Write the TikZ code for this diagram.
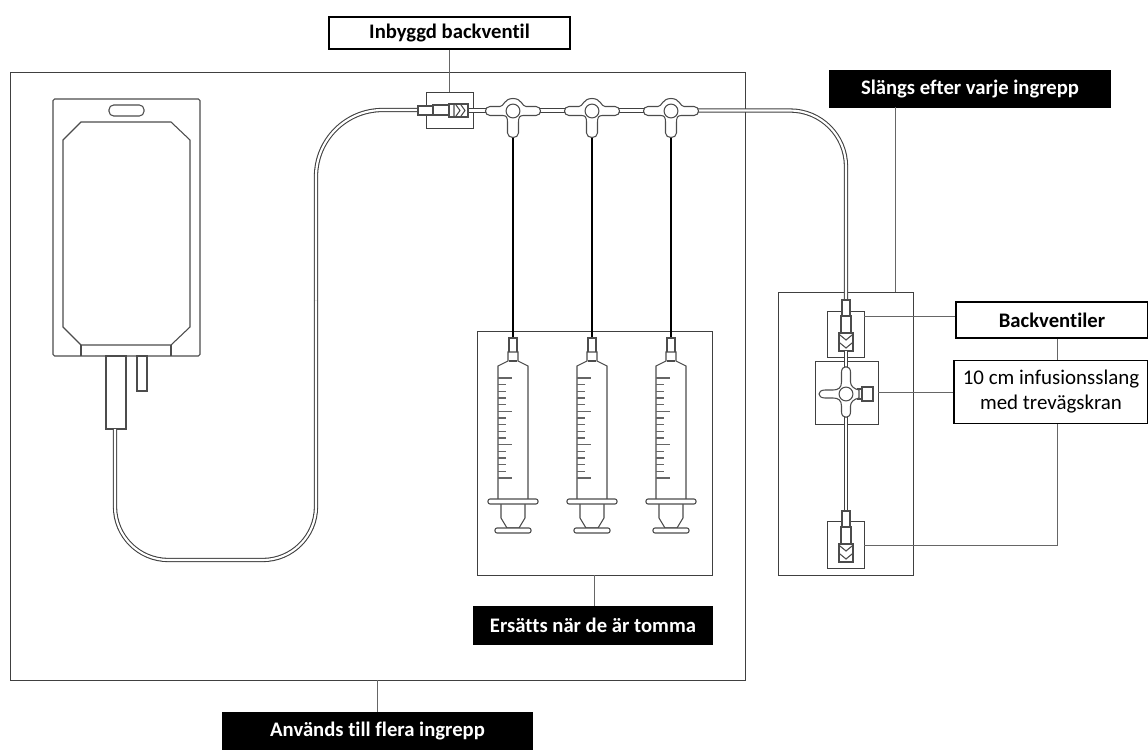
\documentclass[tikz,border=0pt]{standalone}
\usepackage{fontspec}
\setmainfont[Ligatures=NoCommon]{Carlito}
\usetikzlibrary{fit}
\tikzset{
  region/.style={draw=black!75,line width=0.65pt,inner sep=0pt},
  tag/.style={draw=black,line width=0.9pt,fill=white,text=black,font=\fontsize{15.5}{18}\selectfont\bfseries,align=center,inner sep=0pt},
  blacktag/.style={tag,fill=black,text=white},
  lead/.style={draw=black!60,line width=0.7pt},
  part/.style={draw=black!70,line width=0.8pt,fill=white},
  tube/.style={draw=black!75,line width=0.8pt,double=white,double distance=1.6pt},
}
\begin{document}
\begin{tikzpicture}[x={(0.75pt,0)},y={(0,-0.75pt)}]
  \useasboundingbox (0,0) rectangle (1148,749);
  % boxes round the groups of parts
  \node[region,fit={(10,72) (745,680)}] (reuse) {};
  \node[region,fit={(477,331) (712,575)}] (syringes) {};
  \node[region,fit={(778,292) (913,575)}] (patient) {};
  \node[region,fit={(426,92) (473,128)}] (inlinevalve) {};
  \node[region,fit={(827,311) (864,357)}] (valvetop) {};
  \node[region,fit={(815,361) (878,424)}] (stopcock) {};
  \node[region,fit={(827,521) (864,568)}] (valvelow) {};
  % labels
  \node[tag,minimum width=180.75pt,minimum height=24pt] (inbyggd) at (449.5,33) {Inbyggd backventil};
  \node[blacktag,minimum width=210pt,minimum height=27pt] (slangs) at (970,89) {Slängs efter varje ingrepp};
  \node[tag,minimum width=144pt,minimum height=27pt] (backv) at (1052,320) {Backventiler};
  \node[tag,font=\fontsize{15.7}{18.75}\selectfont,minimum width=145.5pt,minimum height=47pt] (infus) at (1051,392) {10 cm infusionsslang\\med trevägskran};
  \node[blacktag,minimum width=178.5pt,minimum height=29pt] (ersatts) at (593,625.5) {Ersätts när de är tomma};
  \node[blacktag,minimum width=233pt,minimum height=27pt] (anvands) at (377.5,731) {Används till flera ingrepp};
  \coordinate (slangsdrop) at (895,107);
  \coordinate (lowturn) at (1057,545);
  % leads
  \draw[lead] (inbyggd.south) -- (inlinevalve.north);
  \draw[lead] (slangsdrop) -- (slangsdrop |- patient.north);
  \draw[lead] (reuse.south) -- (reuse.south |- anvands.north);
  \draw[lead] (syringes.south) -- (syringes.south |- ersatts.north);
  \draw[lead] (valvetop.east |- 0,316) -- (backv.west |- 0,316);
  \draw[lead] (stopcock.east) -- (infus.west |- stopcock.east);
  \draw[lead] (lowturn |- backv.south) -- (lowturn |- infus.north);
  \draw[lead] (lowturn |- infus.south) -- (lowturn) -- (valvelow.east |- lowturn);
  % bag
  \draw[part,rounded corners=1.2pt] (53,99) rectangle (200,356);
  \draw[part,rounded corners=3.5pt] (109,105) rectangle (144,116);
  \draw[part] (81,345) -- (63,327) -- (63,140) -- (81,122) -- (171,122) -- (190,140) -- (190,327) -- (171,345) -- cycle;
  \draw[part] (81,345) -- (81,356) (171,345) -- (171,356);
  \draw[part] (106,356) rectangle (126,429);
  \draw[part] (137,356) rectangle (147,391);
  % tubing
  \draw[tube,rounded corners=40pt] (115,429) -- (115,560) -- (316,560) -- (316,300);
  \draw[tube,rounded corners=50pt] (316,300) -- (316,110) -- (420,110);
  \draw[tube] (465,110.5) -- (670,110.5);
  \draw[tube,rounded corners=42pt] (670,110.5) -- (846,110.5) -- (846,304);
  \draw[tube] (846,350) -- (846,515);
  % inline valve
  \draw[part] (418,106) rectangle (434,115);
  \draw[part] (433,105) rectangle (450,115);
  \draw[part] (449,104) rectangle (468,117);
  \draw[draw=black!70,line width=0.8pt] (454,104) -- (454,117) (456,105) -- (460,110.5) -- (456,116) (461,105) -- (465,110.5) -- (461,116);
  % T pieces, their lines and the syringes
  \foreach \tx in {513,592,671} {
    \draw[line width=1.8pt,black] (\tx,137) -- (\tx,338);
    \begin{scope}[shift={(\tx,111)}]
      \draw[part] (-23,-4.5) -- (-13,-4.5) .. controls (-9,-4.5) and (-9,-12.5) .. (0,-12.5)
        .. controls (9,-12.5) and (9,-4.5) .. (13,-4.5) -- (23,-4.5)
        .. controls (29,-4.5) and (29,4.5) .. (23,4.5) -- (10,4.5)
        .. controls (6.5,4.5) and (5.5,7) .. (5.5,11) -- (5.5,22)
        .. controls (5.5,28) and (-5.5,28) .. (-5.5,22) -- (-5.5,11)
        .. controls (-5.5,7) and (-6.5,4.5) .. (-10,4.5) -- (-23,4.5)
        .. controls (-29,4.5) and (-29,-4.5) .. (-23,-4.5) -- cycle;
      \draw[part] (0,0) circle (5.2pt);
    \end{scope}
    \begin{scope}[shift={(\tx,0)}]
      \draw[part] (-4,338) rectangle (4,353);
      \draw[part] (-15,499) -- (-15,366) -- (-5,361) -- (-5,352) -- (5,352) -- (5,361) -- (15,366) -- (15,499);
      \draw[part] (-4,361) -- (4,361);
      \foreach \n in {0,...,15} {
        \pgfmathsetmacro{\ty}{378+\n*6.667}
        \pgfmathtruncatemacro{\ismajor}{mod(\n,5)==0 ? 1 : 0}
        \ifnum\ismajor=1
          \draw[draw=black!60,line width=0.8pt] (-15,\ty) -- (-1,\ty);
        \else
          \draw[draw=black!60,line width=0.8pt] (-15,\ty) -- (-7,\ty);
        \fi
      }
      \draw[part] (-12,504) -- (-12,518) -- (-6,528) -- (6,528) -- (12,518) -- (12,504);
      \draw[part,rounded corners=1.5pt] (-25,499) rectangle (25,504);
      \draw[part,rounded corners=1.5pt] (-18,528) rectangle (18,533);
    \end{scope}
  }
  % one way valves on the patient line
  \foreach \vy in {0,211} {
    \begin{scope}[shift={(846,\vy)}]
      \draw[part] (-4,300) rectangle (4,316);
      \draw[part] (-5,316) rectangle (5,333);
      \draw[part] (-7,333) rectangle (7,351);
      \draw[draw=black!70,line width=0.8pt] (-6,335) -- (0,340) -- (6,335) (-6,343) -- (0,348) -- (6,343);
    \end{scope}
  }
  \draw[tube] (846,351) -- (846,368);
  % three way tap
  \begin{scope}[shift={(846,394)}]
    \draw[part] (12,-5) rectangle (16,5);
    \draw[part] (16,-7) rectangle (27,7);
    \draw[part] (-4.5,-22) .. controls (-4.5,-29) and (4.5,-29) .. (4.5,-22) -- (4.5,-12)
      .. controls (4.5,-8) and (8,-5) .. (13,-4) -- (13,4)
      .. controls (8,5) and (4.5,8) .. (4.5,12) -- (4.5,18)
      .. controls (4.5,25) and (-4.5,25) .. (-4.5,18) -- (-4.5,12)
      .. controls (-4.5,6) and (-8,4) .. (-13,4) -- (-21,4)
      .. controls (-29,4) and (-29,-4) .. (-21,-4) -- (-13,-4)
      .. controls (-8,-4) and (-4.5,-6) .. (-4.5,-12) -- cycle;
    \draw[part] (0,0) circle (5.2pt);
  \end{scope}
\end{tikzpicture}
\end{document}
